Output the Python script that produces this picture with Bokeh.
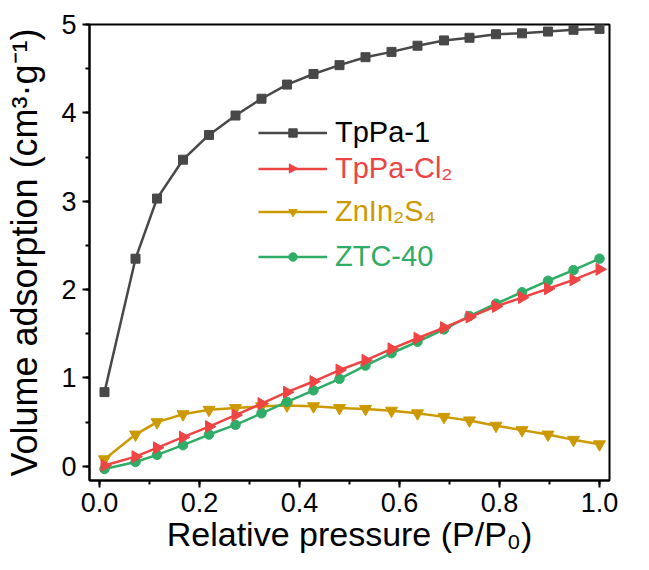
import math
from bokeh.plotting import figure
from bokeh.models import (Range1d, SingleIntervalTicker, NumeralTickFormatter, Legend,
                          LegendItem, PolyAnnotation)
from bokeh.embed import file_html
from bokeh.resources import INLINE

# ---- data ----
p_rel = [0.01, 0.072, 0.115, 0.167, 0.219, 0.272, 0.324, 0.375, 0.428, 0.48,
         0.532, 0.584, 0.636, 0.689, 0.74, 0.793, 0.845, 0.897, 0.948, 1.0]
tppa1 = [0.84, 2.35, 3.03, 3.47, 3.75, 3.97, 4.16, 4.32, 4.44, 4.54,
         4.63, 4.69, 4.76, 4.82, 4.85, 4.89, 4.90, 4.92, 4.94, 4.95]
tppacl2 = [0.01, 0.11, 0.21, 0.33, 0.45, 0.58, 0.71, 0.84, 0.96, 1.09,
           1.20, 1.33, 1.45, 1.57, 1.69, 1.81, 1.91, 2.01, 2.11, 2.23]
znin2s4 = [0.08, 0.36, 0.50, 0.59, 0.64, 0.66, 0.68, 0.69, 0.68, 0.66,
           0.65, 0.63, 0.60, 0.56, 0.52, 0.46, 0.41, 0.36, 0.30, 0.25]
ztc40 = [-0.03, 0.05, 0.13, 0.24, 0.36, 0.47, 0.60, 0.73, 0.86, 0.99,
         1.14, 1.28, 1.41, 1.55, 1.70, 1.84, 1.97, 2.10, 2.22, 2.35]
names = ["TpPa-1", "TpPa-Cl\u2082", "ZnIn\u2082S\u2084", "ZTC-40"]

FONT = "Liberation Sans"
C_GRAY, C_RED, C_GOLD, C_GREEN = "#484848", "#ef4444", "#cc9a00", "#2fac66"

p = figure(width=649, height=570, output_backend="svg", toolbar_location=None,
           x_range=Range1d(-0.02, 1.02), y_range=Range1d(-0.16, 5.0),
           min_border_left=89, min_border_right=40, min_border_top=24, min_border_bottom=90)
p.grid.visible = False
p.outline_line_color = "black"
p.outline_line_width = 2
p.background_fill_color = "white"
p.border_fill_color = "white"

for ax in (p.xaxis[0], p.yaxis[0]):
    ax.axis_line_width = 2
    ax.axis_line_color = "black"
    ax.major_tick_line_width = 2
    ax.minor_tick_line_width = 2
    ax.major_tick_out = 7
    ax.major_tick_in = 0
    ax.minor_tick_out = 4
    ax.minor_tick_in = 0
    ax.major_label_text_font = FONT
    ax.major_label_text_font_size = "27px"
    ax.major_label_text_color = "black"
    ax.axis_label_text_font = FONT
    ax.axis_label_text_font_style = "normal"
    ax.axis_label_text_color = "black"

p.xaxis.axis_label_text_font_size = "34px"
p.yaxis.axis_label_text_font_size = "36px"
p.xaxis.ticker = SingleIntervalTicker(interval=0.2, num_minor_ticks=2)
p.xaxis.formatter = NumeralTickFormatter(format="0.0")
p.yaxis.ticker = SingleIntervalTicker(interval=1, num_minor_ticks=2)
p.xaxis.axis_label = "Relative pressure (P/P\u2080)"
p.yaxis.axis_label = "Volume adsorption (cm\u00b3\u00b7g\u207b\u00b9)"
p.xaxis.major_label_standoff = 5
p.yaxis.major_label_standoff = 6
p.xaxis.axis_label_standoff = 0
p.yaxis.axis_label_standoff = 13

series = [
    (tppa1, C_GRAY, "square", 0.0, 9, "black"),
    (tppacl2, C_RED, "triangle", -math.pi / 2, 12, C_RED),
    (znin2s4, C_GOLD, "inverted_triangle", 0.0, 12, C_GOLD),
    (ztc40, C_GREEN, "circle", 0.0, 9.5, C_GREEN),
]
rends = {}
for i in [0, 2, 3, 1]:
    ys, col, mk, ang, sz, tcol = series[i]
    lr = p.line(p_rel, ys, line_color=col, line_width=2.5)
    sr = p.scatter(p_rel, ys, marker=mk, angle=ang, size=sz, fill_color=col, line_color=col)
    rends[i] = (lr, sr)

legend_y = [331, 295, 252, 207]
for i in range(4):
    ys, col, mk, ang, sz, tcol = series[i]
    # legend markers do not follow a glyph's angle, so the right-pointing
    # triangle of TpPa-Cl2 is drawn on its legend line separately below
    r_list = [rends[i][0]] if i == 1 else list(rends[i])
    lg = Legend(items=[LegendItem(label=names[i], renderers=r_list)],
                location=(169, legend_y[i]), orientation="vertical",
                border_line_color=None, background_fill_alpha=0,
                padding=0, margin=0, spacing=0,
                glyph_width=69, glyph_height=21, label_height=34,
                label_standoff=8, label_text_font=FONT,
                label_text_font_size="29px", label_text_color=tcol)
    p.add_layout(lg, "center")

# right-pointing legend marker for TpPa-Cl2 (canvas pixels)
p.add_layout(PolyAnnotation(xs=[288.5, 288.5, 298.0], ys=[163.0, 173.0, 168.0],
                            xs_units="canvas", ys_units="canvas",
                            fill_color=C_RED, fill_alpha=1.0, line_color=C_RED,
                            line_width=1, editable=False))

open("out.html", "w").write(file_html(p, INLINE))
